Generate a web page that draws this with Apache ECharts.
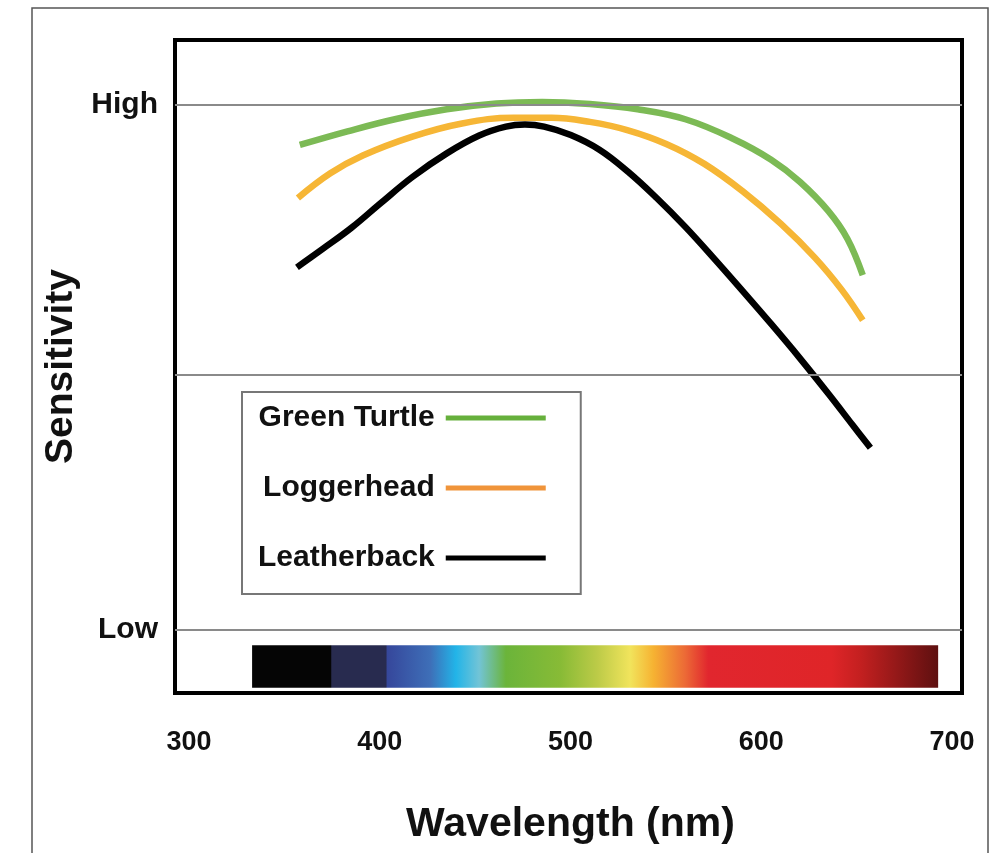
<!DOCTYPE html>
<html>
<head>
<meta charset="utf-8">
<title>Sea turtle spectral sensitivity</title>
<script src="https://cdn.jsdelivr.net/npm/echarts@6/dist/echarts.min.js"></script>
<style>
  html, body { margin: 0; padding: 0; background: #fff; }
  #chart { width: 1003px; height: 853px; }
</style>
</head>
<body>
<div id="chart"></div>
<script>
// [wavelength nm, sensitivity] (Low = 0, High = 100)
var greenTurtle = [
  [358, 92.4], [383, 95.0], [409, 97.4], [435, 99.2], [461, 100.3],
  [485, 100.6], [510, 100.2], [535, 99.2], [560, 97.3], [585, 93.6],
  [605, 89.6], [620, 85.4], [635, 79.8], [645, 74.5], [653, 67.6]
];
var loggerhead = [
  [357, 82.3], [374, 87.0], [391, 90.4], [417, 94.0], [443, 96.5],
  [470, 97.6], [490, 97.6], [510, 96.8], [530, 95.2], [550, 92.6],
  [570, 88.8], [590, 83.6], [610, 77.4], [628, 70.9], [642, 64.8], [653, 59.0]
];
var leatherback = [
  [356.5, 69.1], [370, 72.6], [385, 76.6], [400, 81.2], [417, 86.3],
  [435, 90.8], [452, 94.2], [466, 95.9], [476, 96.3], [486, 95.9],
  [500, 94.3], [515, 91.5], [530, 87.3], [545, 82.3], [560, 76.8],
  [575, 70.8], [590, 64.6], [605, 58.3], [620, 51.8], [635, 45.0],
  [648, 38.9], [657, 34.7]
];

var seriesNames = ['Green Turtle', 'Loggerhead', 'Leatherback'];
var xTicks = [300, 400, 500, 600, 700];
var yTickValues = [0, 100];
var yTickLabels = ['Low', 'High'];
var gridLineValues = [100, 48.6, 0];
// visible spectrum strip under the curves (nm, sensitivity units)
var spectrumRange = [333, 692.5];
var spectrumY = [-2.9, -11];

var font = '"Liberation Sans", Arial, sans-serif';

var spectrumFill = new echarts.graphic.LinearGradient(0, 0, 1, 0, [
  { offset: 0, color: '#050505' },
  { offset: 0.115, color: '#050505' },
  { offset: 0.116, color: '#282b4f' },
  { offset: 0.195, color: '#282b4f' },
  { offset: 0.197, color: '#36479b' },
  { offset: 0.26, color: '#3e6fb8' },
  { offset: 0.297, color: '#22b4e8' },
  { offset: 0.331, color: '#72c4d6' },
  { offset: 0.37, color: '#6bb43a' },
  { offset: 0.45, color: '#88bb36' },
  { offset: 0.504, color: '#bdcb48' },
  { offset: 0.551, color: '#f1e45c' },
  { offset: 0.585, color: '#f6b232' },
  { offset: 0.631, color: '#ec6a36' },
  { offset: 0.665, color: '#e1262e' },
  { offset: 0.845, color: '#df2528' },
  { offset: 0.886, color: '#c42020' },
  { offset: 1, color: '#5e1010' }
]);

var myChart = echarts.init(document.getElementById('chart'));

var option = {
  backgroundColor: '#fff',
  animation: false,
  graphic: [{
    type: 'rect',
    silent: true,
    shape: { x: 32, y: 8, width: 956, height: 900 },
    style: { fill: 'none', stroke: '#555', lineWidth: 1.5 }
  }],
  grid: [
    { left: 175, right: 41, top: 40, bottom: 160, show: true, borderColor: '#000', borderWidth: 4, z: 5 },
    { left: 189, right: 51, top: 40, bottom: 160, show: false }
  ],
  legend: {
    orient: 'vertical',
    left: 242,
    top: 392,
    align: 'right',
    icon: 'rect',
    itemWidth: 100,
    itemHeight: 5,
    itemGap: 38,
    padding: [10, 35, 20, 16],
    borderColor: '#777',
    borderWidth: 2,
    borderRadius: 0,
    selectedMode: false,
    itemStyle: { borderWidth: 0 },
    textStyle: { fontFamily: font, fontWeight: 'bold', fontSize: 30, lineHeight: 32, color: '#111', padding: [0, 6, 0, 0] },
    data: [
      { name: seriesNames[0], itemStyle: { color: '#66b03c' } },
      { name: seriesNames[1], itemStyle: { color: '#f0943a' } },
      { name: seriesNames[2], itemStyle: { color: '#000' } }
    ]
  },
  xAxis: [
    {
      type: 'value', gridIndex: 0, min: 292.6, max: 705,
      axisLine: { show: false }, axisTick: { show: false },
      axisLabel: { show: false }, splitLine: { show: false }
    },
    {
      type: 'value', gridIndex: 1, min: xTicks[0], max: xTicks[xTicks.length - 1], interval: 100,
      axisLine: { show: false }, axisTick: { show: false }, splitLine: { show: false },
      axisLabel: { margin: 36, fontFamily: font, fontWeight: 'bold', fontSize: 27, color: '#111' },
      name: 'Wavelength (nm)',
      nameLocation: 'middle',
      nameGap: 111,
      nameTextStyle: { fontFamily: font, fontWeight: 'bold', fontSize: 41, color: '#111' }
    }
  ],
  yAxis: [
    {
      type: 'value', gridIndex: 0, min: -12, max: 112.4,
      axisLine: { show: false }, axisTick: { show: false }, splitLine: { show: false },
      axisLabel: {
        customValues: yTickValues,
        margin: 17,
        fontFamily: font, fontWeight: 'bold', fontSize: 30, color: '#111',
        formatter: function (v) { return yTickLabels[yTickValues.indexOf(v)]; }
      },
      name: 'Sensitivity',
      nameLocation: 'middle',
      nameRotate: 90,
      nameGap: 69,
      nameTextStyle: { fontFamily: font, fontWeight: 'bold', fontSize: 39, color: '#111' }
    },
    { type: 'value', gridIndex: 1, show: false, min: 0, max: 1 }
  ],
  series: [
    {
      name: 'grid lines',
      type: 'line',
      xAxisIndex: 0, yAxisIndex: 0,
      data: [],
      z: 1,
      markLine: {
        silent: true,
        symbol: 'none',
        label: { show: false },
        lineStyle: { color: '#8a8a8a', width: 2, type: 'solid' },
        data: gridLineValues.map(function (v) { return { yAxis: v }; })
      },
      markArea: {
        silent: true,
        itemStyle: { color: spectrumFill },
        data: [[
          { xAxis: spectrumRange[0], yAxis: spectrumY[0] },
          { xAxis: spectrumRange[1], yAxis: spectrumY[1] }
        ]]
      }
    },
    {
      name: seriesNames[0], type: 'line', data: greenTurtle, smooth: 0.4,
      showSymbol: false, z: 3,
      itemStyle: { color: '#7cba55' },
      lineStyle: { color: '#7cba55', width: 6.5 }
    },
    {
      name: seriesNames[1], type: 'line', data: loggerhead, smooth: 0.4,
      showSymbol: false, z: 3,
      itemStyle: { color: '#f6b636' },
      lineStyle: { color: '#f6b636', width: 6.5 }
    },
    {
      name: seriesNames[2], type: 'line', data: leatherback, smooth: 0.4,
      showSymbol: false, z: 4,
      itemStyle: { color: '#000' },
      lineStyle: { color: '#000', width: 6.5 }
    }
  ]
};

myChart.setOption(option);
</script>
</body>
</html>
